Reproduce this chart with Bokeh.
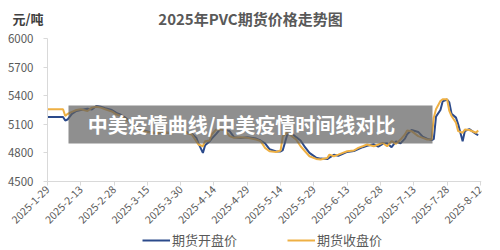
import math
import pandas as pd
from bokeh.plotting import figure
from bokeh.layouts import column
from bokeh.models import (ColumnDataSource, Legend, LegendItem, Label,
                          BoxAnnotation, FixedTicker, Range1d)
from bokeh.core.properties import value
from bokeh.embed import file_html
from bokeh.resources import INLINE

# ---------------- data ----------------
dates = ["2025-01-29", "2025-02-05", "2025-02-06", "2025-02-07", "2025-02-09", "2025-02-11",
         "2025-02-13", "2025-02-16", "2025-02-18", "2025-02-20", "2025-02-22", "2025-02-24",
         "2025-02-27", "2025-03-01", "2025-03-03", "2025-03-05", "2025-03-07", "2025-03-09",
         "2025-03-11", "2025-03-14", "2025-03-17", "2025-03-20", "2025-03-23", "2025-03-26",
         "2025-03-29", "2025-04-01", "2025-04-04", "2025-04-06", "2025-04-07", "2025-04-09",
         "2025-04-10", "2025-04-12", "2025-04-13", "2025-04-15", "2025-04-17", "2025-04-19",
         "2025-04-21", "2025-04-23", "2025-04-26", "2025-04-29", "2025-05-03", "2025-05-05",
         "2025-05-07", "2025-05-09", "2025-05-12", "2025-05-14", "2025-05-15", "2025-05-17",
         "2025-05-19", "2025-05-21", "2025-05-23", "2025-05-25", "2025-05-27", "2025-05-30",
         "2025-06-01", "2025-06-04", "2025-06-05", "2025-06-07", "2025-06-09", "2025-06-11",
         "2025-06-13", "2025-06-16", "2025-06-18", "2025-06-20", "2025-06-22", "2025-06-25",
         "2025-06-27", "2025-06-29", "2025-07-01", "2025-07-03", "2025-07-05", "2025-07-07",
         "2025-07-09", "2025-07-10", "2025-07-12", "2025-07-15", "2025-07-17", "2025-07-19",
         "2025-07-21", "2025-07-22", "2025-07-23", "2025-07-25", "2025-07-26", "2025-07-28",
         "2025-07-29", "2025-07-30", "2025-08-01", "2025-08-02", "2025-08-04", "2025-08-05",
         "2025-08-07", "2025-08-10", "2025-08-11"]

open_price = [5176, 5176, 5140, 5150, 5210, 5240,
              5250, 5262, 5255, 5293, 5285, 5270,
              5250, 5220, 5200, 5170, 5130, 5095,
              5060, 5030, 5015, 5005, 5015, 5005,
              5015, 5020, 5000, 4960, 4900, 4800,
              4880, 4920, 4950, 5000, 5055, 5040,
              5030, 4965, 4955, 4965, 4950, 4930,
              4900, 4840, 4815, 4815, 4830, 4990,
              5005, 4965, 4930, 4860, 4800, 4750,
              4740, 4735, 4750, 4780, 4770, 4790,
              4810, 4820, 4840, 4860, 4875, 4890,
              4865, 4895, 4900, 4860, 4920, 4900,
              4950, 4995, 5040, 5020, 4970, 4950,
              4935, 4945, 5180, 5250, 5340, 5360,
              5330, 5210, 5170, 5100, 4923, 5030,
              5050, 5000, 4985]

close_price = [5258, 5258, 5187, 5208, 5230, 5250,
               5258, 5240, 5275, 5285, 5275, 5258,
               5235, 5205, 5187, 5155, 5116, 5081,
               5050, 5021, 5011, 5011, 5011, 5011,
               5021, 5011, 4993, 4923, 4888, 4870,
               4923, 4930, 4993, 5046, 5046, 5035,
               4976, 4958, 4965, 4958, 4940, 4923,
               4853, 4817, 4810, 4825, 4976, 5011,
               4976, 4940, 4870, 4817, 4765, 4737,
               4730, 4747, 4782, 4765, 4782, 4800,
               4817, 4825, 4853, 4870, 4888, 4870,
               4888, 4905, 4870, 4923, 4895, 4940,
               4993, 5035, 5028, 4976, 4958, 4940,
               4940, 5169, 5258, 5345, 5363, 5363,
               5240, 5187, 5116, 5028, 5011, 5046,
               5040, 5011, 5035]

tick_labels = ["2025-1-29", "2025-2-13", "2025-2-28", "2025-3-15", "2025-3-30",
               "2025-4-14", "2025-4-29", "2025-5-14", "2025-5-29", "2025-6-13",
               "2025-6-28", "2025-7-13", "2025-7-28", "2025-8-12"]
y_ticks = [4500, 4800, 5100, 5400, 5700, 6000]

series_names = ["期货开盘价", "期货收盘价"]
title_text = "2025年PVC期货价格走势图"
unit_text = "元/吨"
banner_text = "中美疫情曲线/中美疫情时间线对比"

# ---------------- build ----------------
origin = pd.Timestamp("2025-01-29")
xd = [(pd.Timestamp(d) - origin).days for d in dates]
tick_pos = [(pd.Timestamp(t) - origin).days for t in tick_labels]

src = ColumnDataSource(dict(x=xd, open=open_price, close=close_price))

FONT = "Noto Sans CJK SC"
GREY = "#595959"
BLUE = "#2B4A8B"
ORANGE = "#EEB044"
W, H = 500, 250
RIGHT = 19
HEAD_H = 30
PLOT_LEFT, PLOT_TOP, PLOT_BOTTOM = 47, 38, 181   # canvas position of the value area
X_END = 195.5                                     # days shown after 1-29
Y0, Y1 = y_ticks[0], y_ticks[-1]

# ---- header: title and unit ----
head = figure(width=W, height=HEAD_H, output_backend="svg", toolbar_location=None,
              x_range=Range1d(0, W - RIGHT), y_range=Range1d(0, HEAD_H),
              x_axis_location=None, y_axis_location=None,
              min_border_left=0, min_border_right=RIGHT,
              min_border_top=0, min_border_bottom=0)
head.title.visible = False
head.grid.visible = False
head.outline_line_color = None
head.text(x=[250], y=[HEAD_H - 18], text=[title_text], text_font=value(FONT),
          text_font_size="15px", text_font_style="bold", text_color=GREY,
          text_align="center", text_baseline="middle")
head.text(x=[12], y=[HEAD_H - 18], text=[unit_text], text_font=value(FONT),
          text_font_size="13px", text_font_style="bold", text_color="#404040",
          text_align="left", text_baseline="middle")

# ---- main plot: frame covers the full lower canvas, axes pinned inside ----
frame_w = W - RIGHT
frame_h = H - HEAD_H
px_per_day = (frame_w - PLOT_LEFT) / X_END
px_per_val = (PLOT_BOTTOM - PLOT_TOP) / (Y1 - Y0)
x_low = -PLOT_LEFT / px_per_day
y_low = Y0 - (H - PLOT_BOTTOM) / px_per_val
y_high = Y1 + (PLOT_TOP - HEAD_H) / px_per_val

p = figure(frame_width=frame_w, frame_height=frame_h, output_backend="svg",
           toolbar_location=None,
           x_range=Range1d(x_low, X_END), y_range=Range1d(y_low, y_high),
           min_border_left=0, min_border_right=RIGHT,
           min_border_top=0, min_border_bottom=0)
p.title.visible = False
p.outline_line_color = None
p.xgrid.visible = False
p.ygrid.visible = False

r_open = p.line("x", "open", source=src, color=BLUE, line_width=2)
r_close = p.line("x", "close", source=src, color=ORANGE, line_width=2)

p.yaxis.ticker = FixedTicker(ticks=y_ticks)
p.yaxis.bounds = (Y0, Y1)
p.yaxis.fixed_location = 0
p.xaxis.ticker = FixedTicker(ticks=tick_pos)
p.xaxis.bounds = (0, X_END)
p.xaxis.fixed_location = Y0
p.xaxis.major_label_overrides = {tp: lab for tp, lab in zip(tick_pos, tick_labels)}
p.xaxis.major_label_orientation = math.pi / 4
for ax in (p.xaxis[0], p.yaxis[0]):
    ax.axis_line_color = "#d9d9d9"
    ax.major_tick_line_color = "#d9d9d9"
    ax.minor_tick_line_color = None
    ax.major_tick_in = 0
    ax.major_tick_out = 4
    ax.major_label_text_color = GREY
    ax.major_label_text_font = FONT
    ax.major_label_text_font_size = "11.5px"
p.xaxis.major_label_text_font_size = "10.5px"
p.yaxis.major_label_standoff = 10
p.xaxis.major_label_standoff = 2

legend = Legend(items=[LegendItem(label=series_names[0], renderers=[r_open]),
                       LegendItem(label=series_names[1], renderers=[r_close])],
                orientation="horizontal", location=(142, 1),
                label_text_font=FONT, label_text_font_size="13px",
                label_text_color=GREY, glyph_width=28, glyph_height=12,
                label_height=12, label_standoff=2, spacing=50,
                border_line_color=None, background_fill_alpha=0,
                padding=0, margin=0)
p.add_layout(legend, "center")

# overlay banner (screen px relative to frame bottom-left)
fb = H  # frame bottom row on the canvas
p.add_layout(BoxAnnotation(left=68, right=432, bottom=fb - 143, top=fb - 105,
                           left_units="screen", right_units="screen",
                           bottom_units="screen", top_units="screen",
                           fill_color="#606060", fill_alpha=0.7,
                           line_color=None))
p.add_layout(Label(x=241, y=fb - 124, x_units="screen", y_units="screen",
                   text=banner_text, text_font=FONT, text_font_size="20px",
                   text_font_style="bold", text_color="white",
                   text_align="center", text_baseline="middle"))

layout = column(head, p, spacing=0)
open("out.html", "w").write(file_html(layout, INLINE))
